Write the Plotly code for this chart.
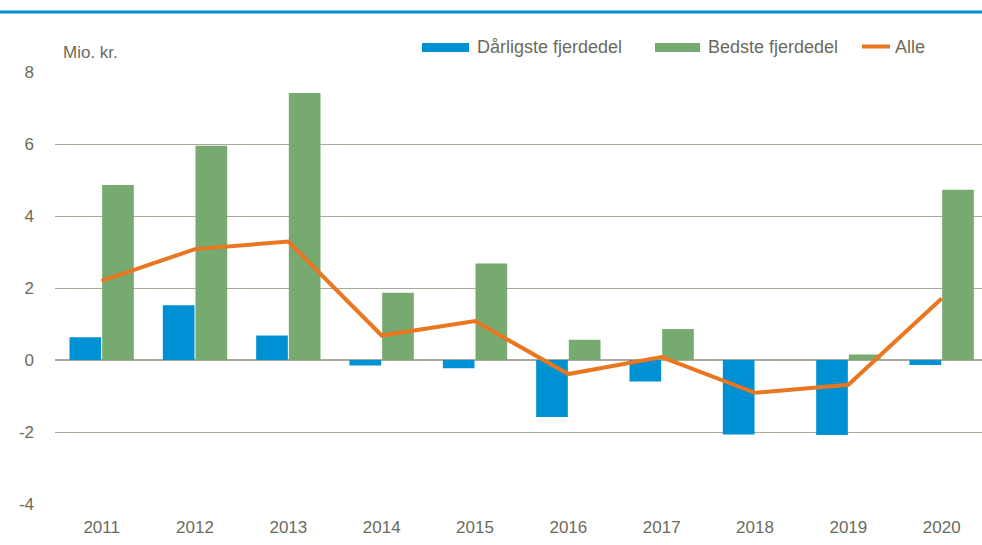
import plotly.graph_objects as go

YEARS = ["2011", "2012", "2013", "2014", "2015", "2016", "2017", "2018", "2019", "2020"]
WORST = [0.63, 1.52, 0.68, -0.15, -0.23, -1.58, -0.60, -2.07, -2.08, -0.14]
BEST = [4.86, 5.95, 7.42, 1.87, 2.68, 0.56, 0.86, 0.0, 0.15, 4.73]
ALL = [2.20, 3.08, 3.29, 0.68, 1.08, -0.39, 0.08, -0.91, -0.69, 1.71]
Y_TICKS = [-4, -2, 0, 2, 4, 6, 8]
Y_LABELS = ["-4", "-2", "0", "2", "4", "6", "8"]

BLUE = "#0091d5"
GREEN = "#77aa71"
ORANGE = "#ea7620"
TEXT = "#6b6b5c"
GRID = "#aaaa9c"
FONT = "Liberation Sans, Arial, sans-serif"

W, H = 982, 545
ML, MR, MT, MB = 55, 0, 72, 41
PW, PH = W - ML - MR, H - MT - MB


def px_x(p):
    return (p - ML) / PW


def px_y(p):
    return (H - MB - p) / PH


fig = go.Figure()
fig.add_trace(go.Bar(x=YEARS, y=WORST, name="Dårligste fjerdedel",
                     marker=dict(color=BLUE, line=dict(width=0)), showlegend=False))
fig.add_trace(go.Bar(x=YEARS, y=BEST, name="Bedste fjerdedel",
                     marker=dict(color=GREEN, line=dict(width=0)), showlegend=False))
fig.add_trace(go.Scatter(x=YEARS, y=ALL, name="Alle", mode="lines",
                         line=dict(color=ORANGE, width=4), showlegend=False))

# top rule
fig.add_shape(type="line", xref="paper", yref="paper", x0=px_x(0), x1=px_x(W),
              y0=px_y(12), y1=px_y(12), line=dict(color=BLUE, width=3))

# legend drawn by hand to match the wide swatches
legend = [
    ("bar", BLUE, 422, 469, "Dårligste fjerdedel", 475),
    ("bar", GREEN, 655, 700, "Bedste fjerdedel", 706),
    ("line", ORANGE, 862, 890, "Alle", 893),
]
for kind, color, x0, x1, label, tx in legend:
    if kind == "bar":
        fig.add_shape(type="rect", xref="paper", yref="paper", x0=px_x(x0), x1=px_x(x1),
                      y0=px_y(52), y1=px_y(43), fillcolor=color, line=dict(width=0))
    else:
        fig.add_shape(type="line", xref="paper", yref="paper", x0=px_x(x0), x1=px_x(x1),
                      y0=px_y(46.5), y1=px_y(46.5), line=dict(color=color, width=4))
    fig.add_annotation(text=label, xref="paper", yref="paper", x=px_x(tx), y=px_y(47),
                       xanchor="left", yanchor="middle", showarrow=False,
                       font=dict(family=FONT, size=18, color=TEXT))

fig.add_annotation(text="Mio. kr.", xref="paper", yref="paper", x=px_x(61), y=px_y(52),
                   xanchor="left", yanchor="middle", showarrow=False,
                   font=dict(family=FONT, size=17, color=TEXT))

fig.update_layout(
    width=W, height=H,
    margin=dict(l=ML, r=MR, t=MT, b=MB),
    paper_bgcolor="white", plot_bgcolor="white",
    barmode="group", bargap=0.3, bargroupgap=0.03,
    font=dict(family=FONT, size=17, color=TEXT),
    # the original chart is cropped a little on the right
    xaxis=dict(range=[-0.5, 9.432], showgrid=False, showline=False, ticks="",
               tickfont=dict(size=17, color=TEXT), ticklabelstandoff=11, fixedrange=True),
    yaxis=dict(range=[-4, 8], tickvals=Y_TICKS, ticktext=Y_LABELS, showgrid=True,
               gridcolor=GRID, gridwidth=1, zeroline=True, zerolinecolor=GRID,
               zerolinewidth=1.5, showline=False, ticks="", ticklabelstandoff=20,
               tickfont=dict(size=17, color=TEXT), fixedrange=True),
    showlegend=False,
)

# drop the default body margin so the figure fills the window exactly
fig.write_html("out.html", config={"displayModeBar": False},
               post_script="document.body.style.margin = '0';")
